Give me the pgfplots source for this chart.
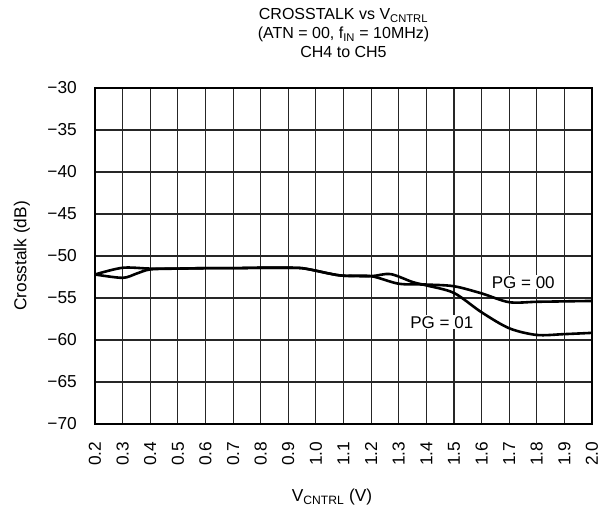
\documentclass[border=0pt]{standalone}
\usepackage{pgfplots}
\pgfplotsset{compat=1.18}
\usepackage{fontspec}
\setmainfont{Liberation Sans}

\begin{document}
\begin{tikzpicture}
\begin{axis}[
    name=ax,
    scale only axis,
    width=497pt, height=336pt,
    xmin=0.2, xmax=2.0,
    ymin=-70, ymax=-30,
    xtick={0.2,0.3,...,2.01},
    xticklabels={0.2,0.3,0.4,0.5,0.6,0.7,0.8,0.9,1.0,1.1,1.2,1.3,1.4,1.5,1.6,1.7,1.8,1.9,2.0},
    ytick={-70,-65,...,-30},
    yticklabels={−70,−65,−60,−55,−50,−45,−40,−35,−30},
    xticklabel style={rotate=90, anchor=east, inner sep=0pt},
    xticklabel shift=17.5pt,
    yticklabel style={anchor=east, inner sep=0pt},
    yticklabel shift=18pt,
    tick label style={font=\fontsize{17.3}{19}\selectfont},
    major tick length=0pt,
    grid=major,
    major grid style={black!85, line width=1.1pt},
    axis line style={line width=2.3pt},
    title={CROSSTALK vs V\textsubscript{CNTRL}\\(ATN = 00, f\textsubscript{IN} = 10MHz)\\CH4 to CH5},
    title style={font=\fontsize{16}{19}\selectfont, align=center, anchor=south, inner sep=0pt, at={(axis description cs:0.5,1)}, yshift=24pt},
    xlabel={V\textsubscript{CNTRL} (V)},
    xlabel style={font=\fontsize{17.3}{19}\selectfont, anchor=base, inner sep=0pt, at={(axis description cs:0.477,-0.2313)}},
    ylabel={Crosstalk (dB)},
    ylabel style={font=\fontsize{17.3}{19}\selectfont, anchor=center, inner sep=0pt, at={(axis description cs:-0.147,0.5)}},
]
% PG = 00
\addplot[black, line width=2.6pt, smooth, tension=0.5] coordinates {
    (0.2,-52.2) (0.3,-52.6) (0.35,-52.1) (0.4,-51.6) (0.5,-51.5) (0.6,-51.45)
    (0.7,-51.45) (0.8,-51.4) (0.9,-51.4) (0.95,-51.45) (1.0,-51.75) (1.05,-52.1)
    (1.1,-52.35) (1.2,-52.4) (1.3,-53.3) (1.4,-53.4) (1.5,-53.6) (1.6,-54.45)
    (1.7,-55.5) (1.8,-55.45) (1.9,-55.4) (2.0,-55.35)
};
% PG = 01
\addplot[black, line width=2.6pt, smooth, tension=0.5] coordinates {
    (0.2,-52.2) (0.3,-51.4) (0.4,-51.5) (0.5,-51.5) (0.6,-51.45)
    (0.7,-51.45) (0.8,-51.4) (0.9,-51.4) (0.95,-51.45) (1.0,-51.75) (1.05,-52.1)
    (1.1,-52.35) (1.2,-52.4) (1.27,-52.15) (1.35,-53.1) (1.4,-53.5) (1.5,-54.4)
    (1.6,-56.7) (1.7,-58.6) (1.8,-59.4) (1.9,-59.3) (2.0,-59.15)
};
\node[font=\fontsize{17}{19}\selectfont, fill=white, inner sep=1pt] at (axis cs:1.751,-53.15) {PG = 00};
\node[font=\fontsize{17}{19}\selectfont, fill=white, inner sep=1pt] at (axis cs:1.456,-57.9) {PG = 01};
\end{axis}
\pgfresetboundingbox
\path ([xshift=-95pt,yshift=-84pt]ax.south west) rectangle ([xshift=9pt,yshift=88pt]ax.north east);
\end{tikzpicture}
\end{document}
